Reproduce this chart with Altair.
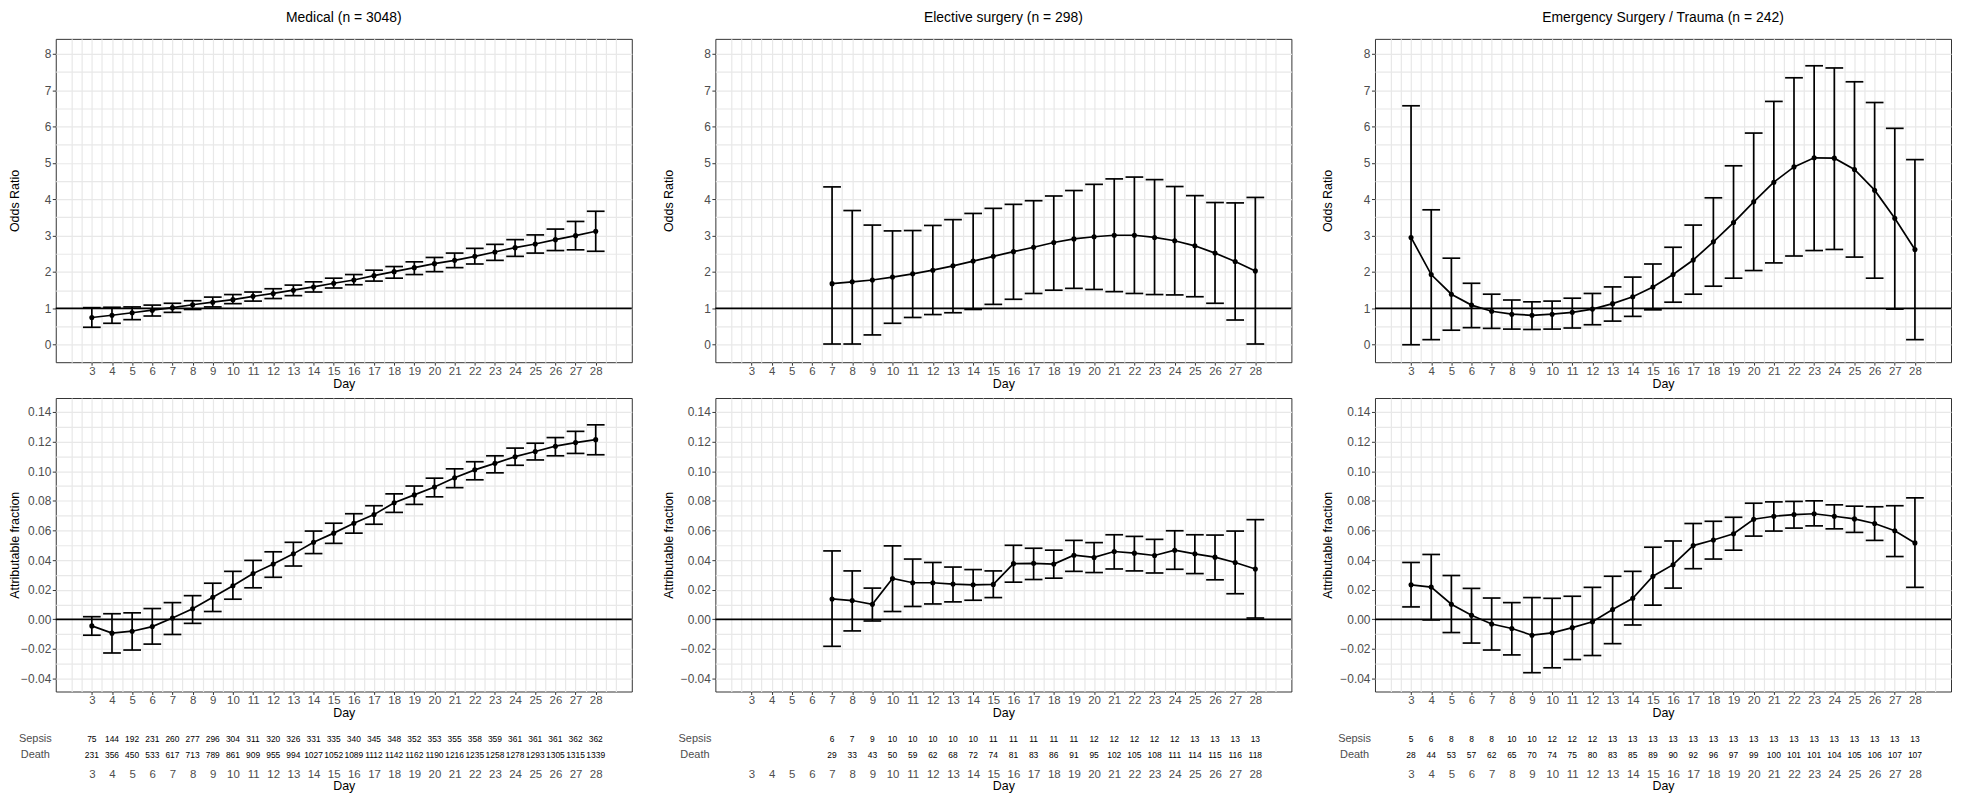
import altair as alt
import pandas as pd

# ---------------- data ----------------
days_full = list(range(3, 29))
days_elec = list(range(7, 29))

# Odds ratio — Medical
med_or = [0.75, 0.81, 0.88, 0.95, 1.02, 1.10, 1.17, 1.24, 1.33, 1.41, 1.50, 1.59, 1.69,
          1.78, 1.90, 2.01, 2.12, 2.23, 2.32, 2.43, 2.55, 2.67, 2.77, 2.89, 3.00, 3.12]
med_or_lo = [0.48, 0.59, 0.69, 0.79, 0.89, 0.97, 1.04, 1.13, 1.20, 1.27, 1.35, 1.45, 1.56,
             1.65, 1.75, 1.83, 1.93, 2.01, 2.12, 2.22, 2.32, 2.43, 2.52, 2.59, 2.61, 2.57]
med_or_hi = [1.02, 1.03, 1.04, 1.09, 1.14, 1.21, 1.31, 1.38, 1.45, 1.54, 1.64, 1.73, 1.83,
             1.93, 2.05, 2.15, 2.28, 2.40, 2.52, 2.65, 2.76, 2.89, 3.02, 3.18, 3.39, 3.67]

# Odds ratio — Elective surgery (days 7-28)
ele_or = [1.68, 1.73, 1.78, 1.86, 1.95, 2.05, 2.17, 2.30, 2.43, 2.56, 2.68, 2.81, 2.91,
          2.97, 3.01, 3.01, 2.95, 2.86, 2.72, 2.52, 2.29, 2.03]
ele_or_lo = [0.02, 0.02, 0.27, 0.59, 0.75, 0.83, 0.88, 0.97, 1.11, 1.25, 1.41, 1.50, 1.55,
             1.52, 1.46, 1.41, 1.38, 1.37, 1.32, 1.14, 0.68, 0.02]
ele_or_hi = [4.34, 3.69, 3.29, 3.13, 3.14, 3.28, 3.44, 3.61, 3.75, 3.86, 3.96, 4.09, 4.24,
             4.41, 4.56, 4.61, 4.54, 4.35, 4.10, 3.91, 3.90, 4.05]

# Odds ratio — Emergency surgery / trauma
eme_or = [2.95, 1.93, 1.39, 1.09, 0.92, 0.84, 0.81, 0.84, 0.89, 0.98, 1.13, 1.32, 1.59,
          1.93, 2.33, 2.83, 3.36, 3.93, 4.47, 4.89, 5.14, 5.13, 4.82, 4.25, 3.48, 2.62]
eme_or_lo = [0.00, 0.14, 0.40, 0.47, 0.45, 0.43, 0.42, 0.43, 0.46, 0.55, 0.65, 0.78, 0.96,
             1.17, 1.39, 1.61, 1.83, 2.04, 2.25, 2.44, 2.59, 2.62, 2.41, 1.83, 0.98, 0.14]
eme_or_hi = [6.57, 3.71, 2.38, 1.69, 1.39, 1.23, 1.18, 1.20, 1.28, 1.41, 1.59, 1.86, 2.22,
             2.68, 3.29, 4.04, 4.92, 5.82, 6.69, 7.34, 7.67, 7.61, 7.23, 6.66, 5.95, 5.09]

# Attributable fraction — Medical
med_af = [-0.0044, -0.0093, -0.0080, -0.0049, 0.0009, 0.0071, 0.0149, 0.0227, 0.0309, 0.0373,
          0.0442, 0.0520, 0.0582, 0.0649, 0.0707, 0.0787, 0.0840, 0.0893, 0.0956, 0.1009,
          0.1053, 0.1098, 0.1133, 0.1169, 0.1193, 0.1213]
med_af_lo = [-0.0107, -0.0227, -0.0207, -0.0167, -0.0102, -0.0027, 0.0053, 0.0136, 0.0213, 0.0284,
             0.0360, 0.0444, 0.0513, 0.0582, 0.0642, 0.0722, 0.0776, 0.0827, 0.0889, 0.0942,
             0.0989, 0.1040, 0.1076, 0.1104, 0.1120, 0.1111]
med_af_hi = [0.0018, 0.0038, 0.0044, 0.0073, 0.0113, 0.0160, 0.0244, 0.0324, 0.0398, 0.0456,
             0.0520, 0.0596, 0.0649, 0.0713, 0.0767, 0.0847, 0.0900, 0.0953, 0.1016, 0.1064,
             0.1104, 0.1156, 0.1189, 0.1227, 0.1269, 0.1313]

# Attributable fraction — Elective surgery (days 7-28)
ele_af = [0.0138, 0.0127, 0.0102, 0.0276, 0.0247, 0.0247, 0.0238, 0.0233, 0.0236, 0.0376,
          0.0378, 0.0373, 0.0433, 0.0418, 0.0458, 0.0447, 0.0431, 0.0467, 0.0442, 0.0420,
          0.0384, 0.0340]
ele_af_lo = [-0.0182, -0.0078, -0.0011, 0.0053, 0.0087, 0.0104, 0.0118, 0.0129, 0.0147, 0.0251,
             0.0269, 0.0278, 0.0324, 0.0316, 0.0340, 0.0327, 0.0313, 0.0338, 0.0309, 0.0267,
             0.0173, 0.0009]
ele_af_hi = [0.0462, 0.0327, 0.0211, 0.0496, 0.0407, 0.0384, 0.0353, 0.0336, 0.0327, 0.0500,
             0.0480, 0.0467, 0.0533, 0.0518, 0.0571, 0.0560, 0.0540, 0.0598, 0.0571, 0.0569,
             0.0596, 0.0673]

# Attributable fraction — Emergency surgery / trauma
eme_af = [0.0233, 0.0218, 0.0102, 0.0027, -0.0031, -0.0062, -0.0107, -0.0091, -0.0056, -0.0016,
          0.0067, 0.0142, 0.0291, 0.0369, 0.0498, 0.0536, 0.0578, 0.0676, 0.0696, 0.0707,
          0.0713, 0.0696, 0.0678, 0.0647, 0.0598, 0.0516]
eme_af_lo = [0.0084, -0.0004, -0.0089, -0.0160, -0.0207, -0.0240, -0.0360, -0.0327, -0.0271, -0.0244,
             -0.0164, -0.0038, 0.0096, 0.0211, 0.0342, 0.0407, 0.0467, 0.0562, 0.0596, 0.0616,
             0.0631, 0.0611, 0.0587, 0.0533, 0.0424, 0.0216]
eme_af_hi = [0.0384, 0.0438, 0.0296, 0.0209, 0.0144, 0.0113, 0.0147, 0.0142, 0.0156, 0.0216,
             0.0291, 0.0324, 0.0487, 0.0529, 0.0647, 0.0662, 0.0689, 0.0784, 0.0793, 0.0796,
             0.0800, 0.0773, 0.0764, 0.0760, 0.0767, 0.0820]

# Counts tables
med_sepsis = [75, 144, 192, 231, 260, 277, 296, 304, 311, 320, 326, 331, 335, 340, 345, 348,
              352, 353, 355, 358, 359, 361, 361, 361, 362, 362]
med_death = [231, 356, 450, 533, 617, 713, 789, 861, 909, 955, 994, 1027, 1052, 1089, 1112, 1142,
             1162, 1190, 1216, 1235, 1258, 1278, 1293, 1305, 1315, 1339]
ele_sepsis = [6, 7, 9, 10, 10, 10, 10, 10, 11, 11, 11, 11, 11, 12, 12, 12, 12, 12, 13, 13, 13, 13]
ele_death = [29, 33, 43, 50, 59, 62, 68, 72, 74, 81, 83, 86, 91, 95, 102, 105, 108, 111, 114,
             115, 116, 118]
eme_sepsis = [5, 6, 8, 8, 8, 10, 10, 12, 12, 12, 13, 13, 13, 13, 13, 13, 13, 13, 13, 13, 13, 13,
              13, 13, 13, 13]
eme_death = [28, 44, 53, 57, 62, 65, 70, 74, 75, 80, 83, 85, 89, 90, 92, 96, 97, 99, 100, 101,
             101, 104, 105, 106, 107, 107]

titles = ["Medical (n = 3048)", "Elective surgery (n = 298)", "Emergency Surgery / Trauma (n = 242)"]
row_labels = ["Sepsis", "Death"]

# ---------------- style ----------------
FONT = "Liberation Sans"
GRID = "#E8E8E8"
TXT = "#4D4D4D"
W = 579
H_TOP = 325
H_BOT = 295
H_TAB = 39

x_dom = [1.21, 29.79]
x_grid = [2 + 0.5 * i for i in range(55)]
or_dom = [-0.48, 8.41]
or_vals = [0.5 * i for i in range(17)]
af_dom = [-0.0487, 0.1494]
af_vals = [round(-0.04 + 0.01 * i, 2) for i in range(19)]

XTEST = "datum.value % 1 === 0 && datum.value >= 3 && datum.value <= 28"


def x_axis():
    return alt.Axis(values=x_grid, grid=True, gridColor=GRID, gridWidth=1.2, domain=False,
                    ticks=True, tickSize=3, tickColor="#333333", tickWidth=1,
                    tickOpacity=alt.condition(XTEST, alt.value(1), alt.value(0)),
                    labelExpr="(" + XTEST + ") ? format(datum.value, 'd') : ''",
                    labelOverlap=False, labelFlush=False, labelFontSize=11.5, labelColor=TXT,
                    labelPadding=0, title="Day", titleFontSize=12.5, titleFontWeight="normal",
                    titleColor="black", titlePadding=1)


def y_axis(vals, test, fmt, title, tpad):
    return alt.Axis(values=vals, grid=True, gridColor=GRID, gridWidth=1.2, domain=False,
                    ticks=True, tickSize=3.5, tickColor="#333333", tickWidth=1,
                    tickOpacity=alt.condition(test, alt.value(1), alt.value(0)),
                    labelExpr="(" + test + ") ? format(datum.value, '" + fmt + "') : ''",
                    labelOverlap=False, labelFlush=False, labelFontSize=12, labelColor=TXT,
                    labelPadding=1.5, minExtent=34, maxExtent=34,
                    title=title, titleFontSize=12.5, titleFontWeight="normal",
                    titleColor="black", titlePadding=tpad)


def panel(days, est, lo, hi, ydom, yaxis, ref, h, title=None):
    df = pd.DataFrame({"day": days, "est": est, "lo": lo, "hi": hi})
    xs = alt.Scale(domain=x_dom, nice=False, zero=False)
    ys = alt.Scale(domain=ydom, nice=False, zero=False)
    xa = x_axis()
    base = alt.Chart(df)
    bars = base.mark_rule(color="black", strokeWidth=1.7).encode(
        x=alt.X("day:Q", scale=xs, axis=xa),
        y=alt.Y("lo:Q", scale=ys, axis=yaxis),
        y2="hi:Q",
    )
    capped = base.transform_calculate(xl="datum.day - 0.44", xr="datum.day + 0.44")
    cap_lo = capped.mark_rule(color="black", strokeWidth=1.7).encode(
        x=alt.X("xl:Q", scale=xs, axis=xa), x2="xr:Q",
        y=alt.Y("lo:Q", scale=ys, axis=yaxis))
    cap_hi = capped.mark_rule(color="black", strokeWidth=1.7).encode(
        x=alt.X("xl:Q", scale=xs, axis=xa), x2="xr:Q",
        y=alt.Y("hi:Q", scale=ys, axis=yaxis))
    refl = alt.Chart(pd.DataFrame({"ref": [ref]})).mark_rule(color="black", strokeWidth=1.7).encode(
        y=alt.Y("ref:Q", scale=ys, axis=yaxis))
    line = base.mark_line(color="black", strokeWidth=1.7).encode(
        x=alt.X("day:Q", scale=xs, axis=xa), y=alt.Y("est:Q", scale=ys, axis=yaxis))
    pts = base.mark_circle(color="black", size=26, opacity=1).encode(
        x=alt.X("day:Q", scale=xs, axis=xa), y=alt.Y("est:Q", scale=ys, axis=yaxis))
    ch = alt.layer(bars, cap_lo, cap_hi, refl, line, pts).properties(width=W, height=h)
    if title is not None:
        ch = ch.properties(title=alt.TitleParams(text=title, fontSize=14, fontWeight="normal",
                                                 color="black", anchor="middle", frame="group",
                                                 baseline="bottom", offset=0))
    return ch


def table(days, sepsis, death):
    recs = []
    for d, s in zip(days, sepsis):
        recs.append({"day": d, "row": "Sepsis", "n": s})
    for d, s in zip(days, death):
        recs.append({"day": d, "row": "Death", "n": s})
    df = pd.DataFrame(recs)
    xs = alt.Scale(domain=x_dom, nice=False, zero=False)
    return alt.Chart(df).mark_text(fontSize=8.5, color="black", baseline="middle").encode(
        x=alt.X("day:Q", scale=xs,
                axis=alt.Axis(values=days_full, grid=False, ticks=False, domain=False,
                              format="d", labelOverlap=False, labelFlush=False,
                              labelFontSize=11.5, labelColor=TXT, labelPadding=2,
                              title="Day", titleFontSize=12.5, titleFontWeight="normal",
                              titleColor="black", titlePadding=0)),
        y=alt.Y("row:N", scale=alt.Scale(type="point", domain=row_labels, padding=0.72),
                axis=alt.Axis(grid=False, ticks=False, domain=False, labelAlign="center",
                              labelBaseline="middle", labelPadding=21, labelFontSize=11,
                              labelColor=TXT, title=None)),
        text="n:Q",
    ).properties(width=W, height=H_TAB, view=alt.ViewBackground(stroke="transparent"))


ytest_or = "datum.value % 1 === 0"
ytest_af = "abs(round(datum.value * 100)) % 2 === 0"

p1 = panel(days_full, med_or, med_or_lo, med_or_hi, or_dom,
           y_axis(or_vals, ytest_or, "d", "Odds Ratio", 0), 1, H_TOP, titles[0])
p2 = panel(days_elec, ele_or, ele_or_lo, ele_or_hi, or_dom,
           y_axis(or_vals, ytest_or, "d", "Odds Ratio", 6.5), 1, H_TOP, titles[1])
p3 = panel(days_full, eme_or, eme_or_lo, eme_or_hi, or_dom,
           y_axis(or_vals, ytest_or, "d", "Odds Ratio", 6.5), 1, H_TOP, titles[2])

b1 = panel(days_full, med_af, med_af_lo, med_af_hi, af_dom,
           y_axis(af_vals, ytest_af, ".2f", "Attributable fraction", 0), 0, H_BOT)
b2 = panel(days_elec, ele_af, ele_af_lo, ele_af_hi, af_dom,
           y_axis(af_vals, ytest_af, ".2f", "Attributable fraction", 6.5), 0, H_BOT)
b3 = panel(days_full, eme_af, eme_af_lo, eme_af_hi, af_dom,
           y_axis(af_vals, ytest_af, ".2f", "Attributable fraction", 6.5), 0, H_BOT)

t1 = table(days_full, med_sepsis, med_death)
t2 = table(days_elec, ele_sepsis, ele_death)
t3 = table(days_full, eme_sepsis, eme_death)

chart = alt.concat(p1, p2, p3, b1, b2, b3, t1, t2, t3, columns=3,
                   spacing={"row": 36, "column": 84}, bounds="flush", align="each"
                   ).properties(padding=0).configure(font=FONT).configure_view(
    stroke="#333333", strokeWidth=1)

chart.save("out.html", embed_options={"renderer": "svg", "actions": False})
